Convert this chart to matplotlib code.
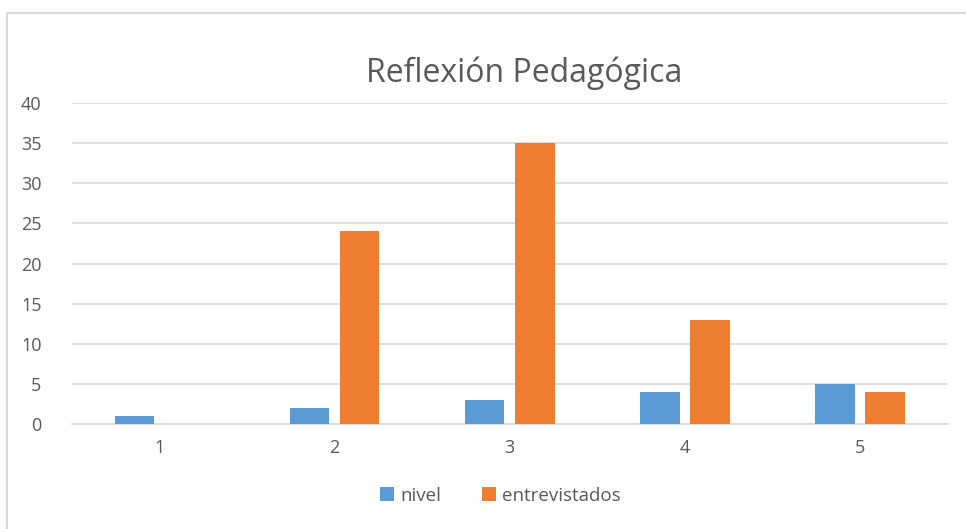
import matplotlib.pyplot as plt
import numpy as np
from matplotlib.patches import Rectangle

categories = ['1', '2', '3', '4', '5']
nivel = [1, 2, 3, 4, 5]
entrevistados = [0, 24, 35, 13, 4]

BLUE = '#5B9BD5'
ORANGE = '#ED7D31'
GRAY = '#595959'

plt.rcParams['font.family'] = ['Open Sans', 'DejaVu Sans']

fig = plt.figure(figsize=(9.66, 5.29), dpi=100)
ax = fig.add_axes([0.0745, 0.1985, 0.9065, 0.6065])

# chart border, like the excel frame (cut off at right/bottom)
fig.patches.append(Rectangle((7 / 966, -0.05), 1.0, 1 - 13 / 529 + 0.05,
                             transform=fig.transFigure, fill=False,
                             edgecolor='#D9D9D9', linewidth=1.5))

x = np.arange(1, len(categories) + 1)
w = 0.225
off = 0.143
ax.bar(x - off, nivel, w, color=BLUE, label='nivel', zorder=3)
ax.bar(x + off, entrevistados, w, color=ORANGE, label='entrevistados', zorder=3)

ax.set_xlim(0.5, 5.5)
ax.set_ylim(0, 40)
ax.set_yticks(range(0, 41, 5))
ax.set_xticks(x)
ax.set_xticklabels(categories)
ax.grid(axis='y', color='#D9D9D9', linewidth=1.2, zorder=0)
for s in ['top', 'right', 'left']:
    ax.spines[s].set_visible(False)
ax.spines['bottom'].set_color('#D9D9D9')
ax.spines['bottom'].set_linewidth(1.2)
ax.tick_params(axis='both', length=0, colors=GRAY, labelsize=13)
ax.tick_params(axis='y', pad=22)
ax.tick_params(axis='x', pad=11)

fig.text(0.543, 0.862, 'Reflexión Pedagógica', ha='center', va='center',
         fontsize=23, color=GRAY)

fig.legend(loc='center', bbox_to_anchor=(0.518, 0.063), ncol=2, frameon=False,
           fontsize=13.5, labelcolor=GRAY, handlelength=0.75, handleheight=0.75,
           handletextpad=0.3, columnspacing=2.2)

fig.savefig('out.png', dpi=100)
